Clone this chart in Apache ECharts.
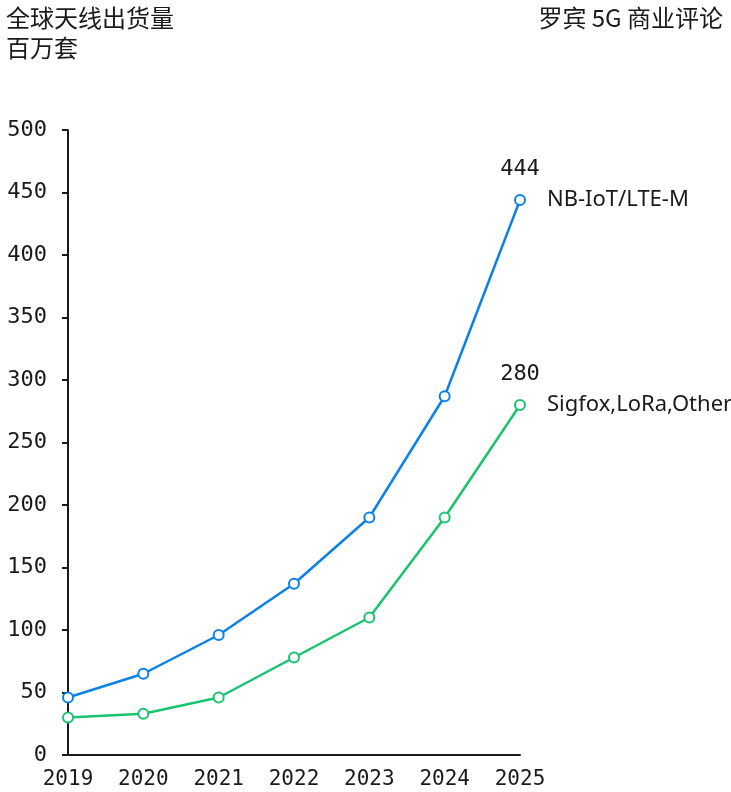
<!DOCTYPE html>
<html><head><meta charset="utf-8">
<script src="https://cdn.jsdelivr.net/npm/echarts@6/dist/echarts.min.js"></script>
<style>html,body{margin:0;padding:0;background:#fff}#c{width:731px;height:792px}</style>
</head><body><div id="c"></div>
<script>
const years = ['2019','2020','2021','2022','2023','2024','2025'];
const nbIot = [46, 65, 96, 137, 190, 287, 444];
const sigfox = [30, 33, 46, 78, 110, 190, 280];
const seriesNames = ['NB-IoT/LTE-M', 'Sigfox,LoRa,Other'];
const titleText = '全球天线出货量\n百万套';
const sourceText = '罗宾 5G 商业评论';

const mono = '"DejaVu Sans Mono", monospace';
const sans = '"Noto Sans", "Noto Sans CJK SC", sans-serif';
const cjk = '"Noto Sans CJK SC", "Noto Sans", sans-serif';

function mkData(arr){
  return arr.map((v,i)=> i===arr.length-1 ? {value:v, label:{show:true, position:'top', distance:14, formatter:'{c}', fontFamily:mono, fontSize:22, color:'#1a1a1a'}} : v);
}
function mkSeries(name, arr, color){
  return {
    name, type:'line', data:mkData(arr),
    symbol:'circle', symbolSize:10, showSymbol:true,
    lineStyle:{color, width:2.5},
    itemStyle:{color:'#fff', borderColor:color, borderWidth:2},
    label:{show:false},
    endLabel:{show:true, formatter:'{a}', distance:27, fontFamily:sans, fontSize:22, color:'#1a1a1a'},
    emphasis:{disabled:true}, animation:false
  };
}
const chart = echarts.init(document.getElementById('c'));
chart.setOption({
  animation:false,
  backgroundColor:'#fff',
  title:[
    {text:titleText, left:1, top:-2, textStyle:{fontFamily:cjk, fontWeight:'normal', fontSize:24, lineHeight:30, color:'#1a1a1a'}},
    {text:sourceText, right:3, top:-2, textStyle:{fontFamily:cjk, fontWeight:'normal', fontSize:24, lineHeight:30, color:'#1a1a1a'}}
  ],
  grid:{left:68, right:211, top:130, bottom:37, containLabel:false},
  xAxis:{type:'category', data:years, boundaryGap:false,
    axisLine:{lineStyle:{color:'#1a1a1a', width:2}}, axisTick:{show:false},
    axisLabel:{fontFamily:mono, fontSize:21, color:'#1a1a1a', margin:14}, splitLine:{show:false}},
  yAxis:{type:'value', min:0, max:500, interval:50,
    axisLine:{show:true, lineStyle:{color:'#1a1a1a', width:2}},
    axisTick:{show:true, length:6, lineStyle:{color:'#1a1a1a', width:2}},
    axisLabel:{fontFamily:mono, fontSize:22, color:'#1a1a1a', margin:21}, splitLine:{show:false}},
  series:[mkSeries(seriesNames[0], nbIot, '#0a82e8'), mkSeries(seriesNames[1], sigfox, '#18c46e')]
});
</script></body></html>
